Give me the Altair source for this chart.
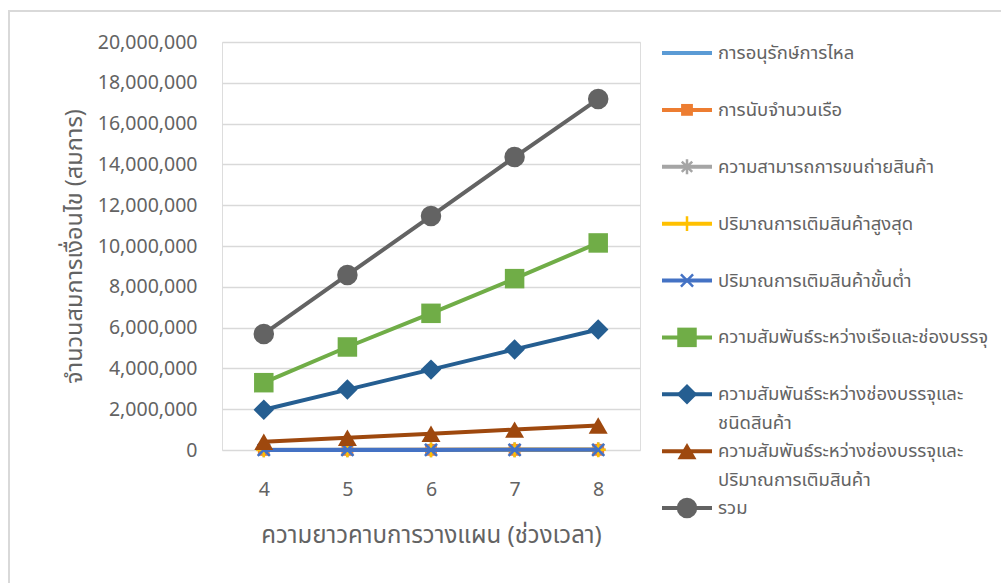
import altair as alt
import pandas as pd

# ---- data ----
periods = ["4", "5", "6", "7", "8"]
series_names = [
    "การอนุรักษ์การไหล",
    "การนับจำนวนเรือ",
    "ความสามารถการขนถ่ายสินค้า",
    "ปริมาณการเติมสินค้าสูงสุด",
    "ปริมาณการเติมสินค้าขั้นต่ำ",
    "ความสัมพันธ์ระหว่างเรือและช่องบรรจุ",
    "ความสัมพันธ์ระหว่างช่องบรรจุและ\nชนิดสินค้า",
    "ความสัมพันธ์ระหว่างช่องบรรจุและ\nปริมาณการเติมสินค้า",
    "รวม",
]
flow_conservation = [6000, 7500, 9000, 10500, 12000]
vessel_count = [5000, 6000, 7000, 8000, 9000]
handling_capacity = [8000, 10000, 12000, 14000, 16000]
max_loading = [4000, 5000, 6000, 7000, 8000]
min_loading = [4000, 5000, 6000, 7000, 8000]
vessel_compartment = [3300000, 5050000, 6700000, 8400000, 10150000]
compartment_product = [1970000, 2960000, 3940000, 4930000, 5910000]
compartment_quantity = [400000, 600000, 800000, 1000000, 1200000]
total = [5690000, 8580000, 11470000, 14360000, 17200000]
y_ticks = [0, 2000000, 4000000, 6000000, 8000000, 10000000,
           12000000, 14000000, 16000000, 18000000, 20000000]

series_values = [
    flow_conservation, vessel_count, handling_capacity, max_loading,
    min_loading, vessel_compartment, compartment_product,
    compartment_quantity, total,
]

colors = ["#5B9BD5", "#ED7D31", "#A5A5A5", "#FFC000", "#4472C4",
          "#70AD47", "#255E91", "#9E480E", "#636363"]

ASTERISK = "M-1,0L1,0M0,-1L0,1M-0.7,-0.7L0.7,0.7M-0.7,0.7L0.7,-0.7"
PLUS = "M-1,0L1,0M0,-1L0,1"
XCROSS = "M-0.7,-0.7L0.7,0.7M-0.7,0.7L0.7,-0.7"
# (shape, filled, size)
markers = [
    (None, True, 0),
    ("square", True, 140),
    (ASTERISK, False, 220),
    (PLUS, False, 220),
    (XCROSS, False, 300),
    ("square", True, 380),
    ("diamond", True, 420),
    ("triangle-up", True, 360),
    ("circle", True, 420),
]

rows = []
for name, vals in zip(series_names, series_values):
    for p, v in zip(periods, vals):
        rows.append({"series": name, "period": p, "value": v})
df = pd.DataFrame(rows)

FONT = "Noto Sans Thai, Leelawadee UI, Tahoma, Noto Sans, sans-serif"
NUMFONT = "Noto Sans, Open Sans, sans-serif"
TXT = "#636363"

base = alt.Chart(df)
x_enc = alt.X("period:O", sort=periods,
              axis=alt.Axis(title="ความยาวคาบการวางแผน (ช่วงเวลา)", labelAngle=0,
                            labelFontSize=19.5, labelColor=TXT, labelPadding=30,
                            titleFontSize=24, titleFontWeight="normal", titleColor=TXT,
                            titlePadding=25, domain=False, ticks=False, tickSize=0,
                            grid=False, labelFont=NUMFONT, titleFont=FONT))
y_enc = alt.Y("value:Q", scale=alt.Scale(domain=[0, 20000000]),
              axis=alt.Axis(title="จำนวนสมการเงื่อนไข (สมการ)", format=",.0f",
                            values=y_ticks,
                            labelFontSize=19.5, labelColor=TXT, labelPadding=25,
                            titleFontSize=23.5, titleFontWeight="normal", titleColor=TXT,
                            titlePadding=11, domain=False, ticks=False, tickSize=0,
                            gridColor="#d9d9d9", gridWidth=1.5,
                            labelFont=NUMFONT, titleFont=FONT))

main_layers = []
for name, col, (shape, filled, size) in zip(series_names, colors, markers):
    sub = base.transform_filter(alt.datum.series == name)
    main_layers.append(sub.mark_line(strokeWidth=4, color=col).encode(x=x_enc, y=y_enc))
    if shape is not None:
        if filled:
            pt = sub.mark_point(shape=shape, filled=True, size=size, color=col, opacity=1)
        else:
            pt = sub.mark_point(shape=shape, filled=False, size=size, color=col,
                                strokeWidth=2.5, opacity=1)
        main_layers.append(pt.encode(x=x_enc, y=y_enc))
main = alt.layer(*main_layers)

# ---- legend ----
leg_rows = []
for i, (name, col) in enumerate(zip(series_names, colors)):
    parts = name.split("\n")
    leg_rows.append({"row": i, "series": name, "line1": parts[0],
                     "line2": parts[1] if len(parts) > 1 else ""})
leg_df = pd.DataFrame(leg_rows)
leg_base = alt.Chart(leg_df)
ly = alt.Y("row:Q", scale=alt.Scale(domain=[0, 8], range=[11, 466]), axis=None)

leg_layers = []
for name, col, (shape, filled, size) in zip(series_names, colors, markers):
    sub = leg_base.transform_filter(alt.datum.series == name)
    leg_layers.append(sub.mark_rule(strokeWidth=4, color=col).encode(
        x=alt.value(440), x2=alt.value(490), y=ly))
    if shape is not None:
        if filled:
            pt = sub.mark_point(shape=shape, filled=True, size=size, color=col, opacity=1)
        else:
            pt = sub.mark_point(shape=shape, filled=False, size=size, color=col,
                                strokeWidth=2.5, opacity=1)
        leg_layers.append(pt.encode(x=alt.value(465), y=ly))
leg_layers.append(leg_base.mark_text(align="left", baseline="middle", fontSize=18.5,
                                     color=TXT, font=FONT).encode(
    x=alt.value(496), y=ly, text="line1:N"))
leg_layers.append(leg_base.mark_text(align="left", baseline="middle", fontSize=18.5,
                                     color=TXT, font=FONT, dy=29).encode(
    x=alt.value(496), y=ly, text="line2:N"))
legend = alt.layer(*leg_layers)

frame = alt.Chart(pd.DataFrame({"k": [0]})).mark_rect(
    fillOpacity=0, stroke="#d9d9d9", strokeWidth=2).encode(
    x=alt.value(-213), x2=alt.value(800), y=alt.value(-31), y2=alt.value(600))

chart = alt.layer(frame, main, legend).resolve_scale(y="independent", x="independent").properties(
    width=418, height=408,
    autosize=alt.AutoSizeParams(type="none"),
    padding={"left": 222, "top": 42, "right": 361, "bottom": 133},
).configure_view(stroke=None).configure(background="white")

chart.save("out.html", embed_options={"renderer": "svg", "actions": False})
